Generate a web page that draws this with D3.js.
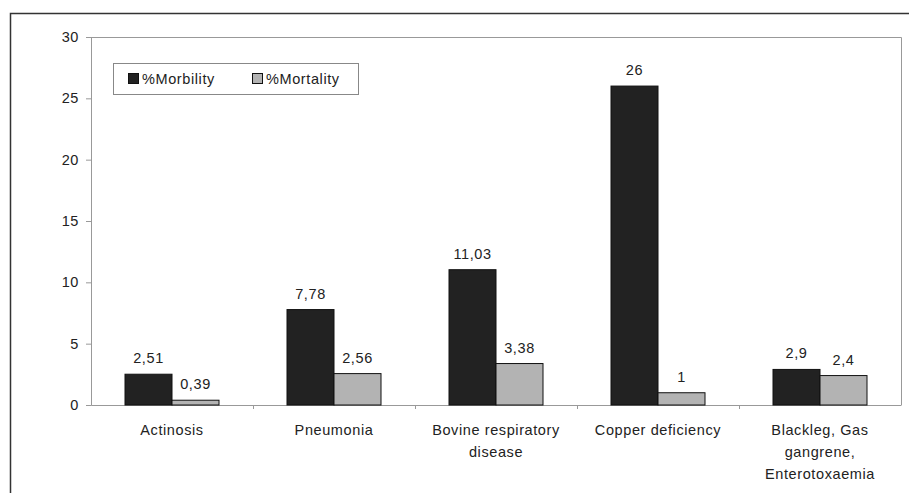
<!DOCTYPE html>
<html>
<head>
<meta charset="utf-8">
<script src="https://cdn.jsdelivr.net/npm/d3@7"></script>
<style>
body { margin: 0; background: #fff; }
svg text { font-family: "Liberation Sans", Arial, sans-serif; fill: #222; letter-spacing: 0.6px; }
</style>
</head>
<body>
<div id="chart"></div>
<script>
"use strict";

// data
const categories = ["Actinosis", "Pneumonia", "Bovine respiratory disease", "Copper deficiency",
                    "Blackleg, Gas gangrene, Enterotoxaemia"];
const catLines = [["Actinosis"], ["Pneumonia"], ["Bovine respiratory", "disease"], ["Copper deficiency"],
                  ["Blackleg, Gas", "gangrene,", "Enterotoxaemia"]];
const morbidity = [2.51, 7.78, 11.03, 26, 2.9];
const mortality = [0.39, 2.56, 3.38, 1, 2.4];
const seriesNames = ["%Morbility", "%Mortality"];
const yTicks = [0, 5, 10, 15, 20, 25, 30];

const W = 909, H = 493;
const plot = {left: 91, right: 901, top: 37, bottom: 405};
const colors = ["#222222", "#b3b3b3"];
const fs = "14.5px";

const svg = d3.select("#chart").append("svg")
    .attr("width", W).attr("height", H);

// outer frame (top and left edges)
svg.append("path")
    .attr("d", `M10.5,${H} L10.5,13.5 L${W},13.5`)
    .attr("fill", "none").attr("stroke", "#333").attr("stroke-width", 1.5);

const x0 = d3.scaleBand().domain(categories).range([plot.left, plot.right]).paddingInner(0).paddingOuter(0);
const x1 = d3.scaleBand().domain(seriesNames).range([0, 94]);
const y = d3.scaleLinear().domain([0, 30]).range([plot.bottom, plot.top]);

// plot area frame (top and right)
svg.append("path")
    .attr("d", `M${plot.left},${plot.top + 0.5} L${plot.right + 0.5},${plot.top + 0.5} L${plot.right + 0.5},${plot.bottom}`)
    .attr("fill", "none").attr("stroke", "#999");

// y axis
const yAxis = svg.append("g")
    .attr("transform", `translate(${plot.left},0)`)
    .call(d3.axisLeft(y).tickValues(yTicks).tickSize(5).tickPadding(7));
yAxis.select(".domain").attr("stroke", "#999");
yAxis.selectAll(".tick line").attr("stroke", "#999");
yAxis.selectAll("text").style("font-size", fs).style("font-family", null).attr("fill", "#222");

// x axis
const xAxis = svg.append("g")
    .attr("transform", `translate(0,${plot.bottom})`)
    .call(d3.axisBottom(x0).tickSize(0).tickFormat(""));
xAxis.select(".domain").attr("stroke", "#999");
xAxis.selectAll(".tick").remove();
xAxis.selectAll(".sep")
    .data(categories.slice(1))
    .enter().append("line")
    .attr("x1", d => x0(d) + 0.5).attr("x2", d => x0(d) + 0.5)
    .attr("y1", 0).attr("y2", 4)
    .attr("stroke", "#999");

// category labels
const catG = svg.append("g");
categories.forEach((c, i) => {
    const t = catG.append("text")
        .attr("x", x0(c) + x0.bandwidth() / 2)
        .attr("y", plot.bottom + 30)
        .attr("text-anchor", "middle")
        .style("font-size", fs);
    catLines[i].forEach((line, j) => {
        t.append("tspan")
            .attr("x", x0(c) + x0.bandwidth() / 2)
            .attr("dy", j === 0 ? 0 : 22)
            .text(line);
    });
});

// bars
const rows = categories.map((c, i) => ({cat: c, vals: [morbidity[i], mortality[i]]}));
const groups = svg.selectAll("g.group")
    .data(rows)
    .enter().append("g")
    .attr("class", "group")
    .attr("transform", d => `translate(${x0(d.cat) + x0.bandwidth() / 2 - 47},0)`);

groups.selectAll("rect")
    .data(d => d.vals.map((v, k) => ({name: seriesNames[k], v: v, k: k})))
    .enter().append("rect")
    .attr("x", d => x1(d.name))
    .attr("y", d => y(d.v))
    .attr("width", x1.bandwidth())
    .attr("height", d => y(0) - y(d.v))
    .attr("fill", d => colors[d.k])
    .attr("stroke", "#111")
    .attr("stroke-width", 1);

groups.selectAll("text.val")
    .data(d => d.vals.map((v, k) => ({name: seriesNames[k], v: v, k: k})))
    .enter().append("text")
    .attr("class", "val")
    .attr("x", d => x1(d.name) + x1.bandwidth() / 2)
    .attr("y", d => y(d.v) - 11)
    .attr("text-anchor", "middle")
    .style("font-size", fs)
    .text(d => String(d.v).replace(".", ","));

// legend
const leg = svg.append("g").attr("transform", "translate(113,63)");
leg.append("rect")
    .attr("x", 0.5).attr("y", 0.5).attr("width", 245).attr("height", 31)
    .attr("fill", "#fff").attr("stroke", "#888");
seriesNames.forEach((n, k) => {
    const lx = 15 + k * 124;
    leg.append("rect")
        .attr("x", lx + 0.5).attr("y", 10.5).attr("width", 10).attr("height", 10)
        .attr("fill", colors[k]).attr("stroke", "#111");
    leg.append("text")
        .attr("x", lx + 14).attr("y", 21)
        .style("font-size", fs)
        .text(n);
});
</script>
</body>
</html>
